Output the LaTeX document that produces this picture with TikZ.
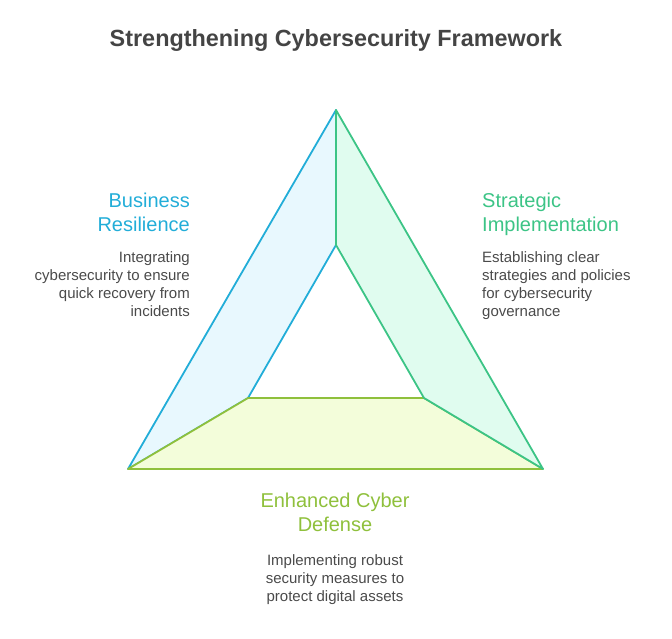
\documentclass[tikz,border=0pt]{standalone}
\usepackage{fontspec}
\setmainfont{Liberation Sans}
\definecolor{bstroke}{HTML}{22ADD8}
\definecolor{bfill}{HTML}{E8F8FE}
\definecolor{gstroke}{HTML}{3CC486}
\definecolor{gfill}{HTML}{E0FCEF}
\definecolor{ystroke}{HTML}{8FC03C}
\definecolor{yfill}{HTML}{F3FDDA}
\definecolor{titlec}{HTML}{444444}
\definecolor{bodyc}{HTML}{4A4A4A}
\begin{document}
\begin{tikzpicture}[x=1pt,y=-1pt,
  seg/.style={line width=1.8pt,line join=round},
  headtxt/.style={font=\fontsize{20}{24}\selectfont,inner sep=0pt},
  bodytxt/.style={font=\fontsize{15}{18}\selectfont,text=bodyc,inner sep=0pt}]
\useasboundingbox (0,0) rectangle (672,638);
\coordinate (T) at (336,110);
\coordinate (BL) at (128,469);
\coordinate (BR) at (543,469);
\coordinate (iT) at (336,245);
\coordinate (iBL) at (248,398);
\coordinate (iBR) at (424,398);
\draw[seg,draw=bstroke,fill=bfill] (T) -- (BL) -- (iBL) -- (iT) -- cycle;
\draw[seg,draw=ystroke,fill=yfill] (BL) -- (iBL) -- (iBR) -- (BR) -- cycle;
\draw[seg,draw=gstroke,fill=gfill] (T) -- (iT) -- (iBR) -- (BR) -- cycle;
\node[font=\bfseries\fontsize{23.4}{26}\selectfont,text=titlec,inner sep=0pt] (title) at (336,40) {Strengthening Cybersecurity Framework};
\node[headtxt,text=bstroke,align=right,anchor=north east] (bh) at (190,193) {Business\\Resilience};
\node[bodytxt,align=right,anchor=north east] (bb) at (190,251) {Integrating\\cybersecurity to ensure\\quick recovery from\\incidents};
\node[headtxt,text=gstroke,align=left,anchor=north west] (gh) at (482,193) {Strategic\\Implementation};
\node[bodytxt,align=left,anchor=north west] (gb) at (482,251) {Establishing clear\\strategies and policies\\for cybersecurity\\governance};
\node[headtxt,text=ystroke,align=center,anchor=north] (yh) at (335,493) {Enhanced Cyber\\Defense};
\node[bodytxt,align=center,anchor=north] (yb) at (335,554) {Implementing robust\\security measures to\\protect digital assets};
\end{tikzpicture}
\end{document}
